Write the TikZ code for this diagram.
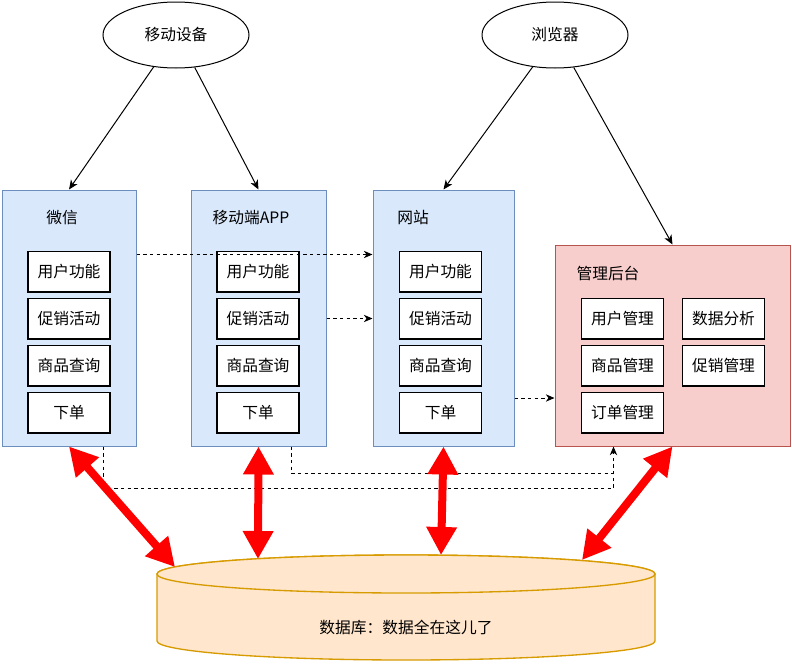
\documentclass[tikz,border=0pt]{standalone}
\usepackage{fontspec}
\setmainfont{Noto Sans CJK SC}
\usetikzlibrary{arrows.meta,shapes.geometric}
\definecolor{bfill}{HTML}{DAE8FC}
\definecolor{bline}{HTML}{6C8EBF}
\definecolor{rfill}{HTML}{F8CECC}
\definecolor{rline}{HTML}{B85450}
\definecolor{cfill}{HTML}{FFE6CC}
\definecolor{cline}{HTML}{D79B00}
\definecolor{bigred}{HTML}{FF0000}
\begin{document}
\begin{tikzpicture}[x=0.75pt,y=-0.75pt,
  font=\fontsize{11.8pt}{13pt}\selectfont,
  bluecont/.style={draw=bline,fill=bfill,line width=0.75pt,inner sep=0pt,minimum height=192pt},
  redcont/.style={draw=rline,fill=rfill,line width=0.75pt,inner sep=0pt},
  item/.style={draw=black,fill=white,line width=1pt,minimum width=61.5pt,minimum height=30.5pt,inner sep=0pt},
  device/.style={draw=black,fill=white,ellipse,line width=0.75pt,minimum width=109.5pt,minimum height=49.5pt,inner sep=0pt},
  title/.style={inner sep=0pt},
  solidarr/.style={draw=black,line width=0.75pt,-{Stealth[length=7pt,width=6pt,inset=2pt]}},
  dasharr/.style={draw=black,line width=0.75pt,dash pattern=on 2.5pt off 2.5pt,-{Stealth[length=6.5pt,width=5.5pt,inset=2pt]}},
  dashline/.style={draw=black,line width=0.75pt,dash pattern=on 2.5pt off 2.5pt},
  redarr/.style={draw=bigred,line width=6pt,{Triangle[length=21pt,width=21.75pt]}-{Triangle[length=21pt,width=21.75pt]}}
]
\useasboundingbox (0,0) rectangle (792,664);

% devices
\node[device] (md) at (176,35) {移动设备};
\node[device] (br) at (555,35) {浏览器};

% containers
\node[bluecont,minimum width=100.5pt] (wx) at (69,318) {};
\node[bluecont,minimum width=101.25pt] (app) at (258.5,318) {};
\node[bluecont,minimum width=105.75pt] (web) at (443.5,318) {};
\node[redcont,minimum width=176.25pt,minimum height=150.75pt] (adm) at (672.5,345.5) {};

% titles
\node[title] (twx) at (62,218) {微信};
\node[title] (tapp) at (251,218) {移动端APP};
\node[title] (tweb) at (413,218) {网站};
\node[title] (tadm) at (608,273) {管理后台};

% database cylinder
\path[fill=cfill,draw=cline,line width=1pt]
  (157,574) -- (157,641) arc[start angle=180,end angle=360,x radius=186.75pt,y radius=14.25pt]
  -- (655,574) arc[start angle=0,end angle=180,x radius=186.75pt,y radius=14.25pt] -- cycle;
\draw[fill=cfill,draw=cline,line width=1pt] (406,574) ellipse[x radius=186.75pt,y radius=14.25pt];
\node (db) at (406,627) {数据库：数据全在这儿了};
\coordinate (cA) at (175,567);
\coordinate (cB) at (258,559);
\coordinate (cC) at (441,555);
\coordinate (cD) at (582,560);

% items
\node[item] (w1) at (69,271.5) {用户功能};
\node[item] (w2) at (69,318.5) {促销活动};
\node[item] (w3) at (69,365.5) {商品查询};
\node[item] (w4) at (69,412.5) {下单};
\node[item] (a1) at (258,271.5) {用户功能};
\node[item] (a2) at (258,318.5) {促销活动};
\node[item] (a3) at (258,365.5) {商品查询};
\node[item] (a4) at (258,412.5) {下单};
\node[item] (s1) at (440.5,271.5) {用户功能};
\node[item] (s2) at (440.5,318.5) {促销活动};
\node[item] (s3) at (440.5,365.5) {商品查询};
\node[item] (s4) at (440.5,412.5) {下单};
\node[item] (m1) at (622.5,318.5) {用户管理};
\node[item] (m2) at (622.5,365.5) {商品管理};
\node[item] (m3) at (622.5,412.5) {订单管理};
\node[item] (m4) at (723.5,318.5) {数据分析};
\node[item] (m5) at (723.5,365.5) {促销管理};

% dashed connectors
\coordinate (d1s) at ([yshift=-48.75pt]wx.north east);
\draw[dasharr] (d1s) -- (d1s -| web.west);
\draw[dasharr] (app.east |- a2) -- (web.west |- a2);
\coordinate (d3s) at ([yshift=-60pt]web.east);
\draw[dasharr] (d3s) -- (d3s -| adm.west);

\coordinate (wxo) at ([xshift=25.5pt]wx.south);
\coordinate (admi) at ([xshift=-44.25pt]adm.south);
\coordinate (wxj) at ([yshift=-31.5pt]wxo);
\draw[dasharr] (wxo) -- (wxj) -| (admi);
\coordinate (appo) at ([xshift=24.75pt]app.south);
\coordinate (appj) at ([yshift=-20.25pt]appo);
\draw[dashline] (appo) -- (appj) -- (appj -| admi);

% solid connectors
\draw[solidarr] (md.235) -- (wx.north);
\draw[solidarr] (md.300) -- (app.north);
\draw[solidarr] (br.235) -- (web.north);
\draw[solidarr] (br.300) -- (adm.north);

% red double arrows
\draw[redarr] (wx.south) -- (cA);
\draw[redarr] (app.south) -- (cB);
\draw[redarr] (web.south) -- (cC);
\draw[redarr] (adm.south) -- (cD);
\end{tikzpicture}
\end{document}
